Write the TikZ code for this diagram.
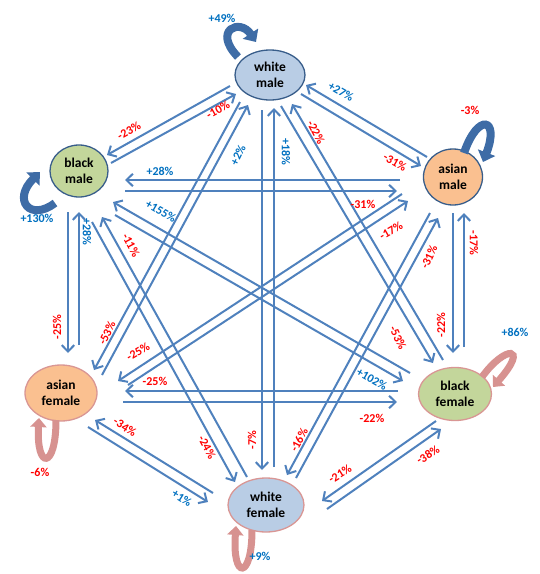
\documentclass[tikz,border=0pt]{standalone}
\usepackage{fontspec}
\setmainfont{Carlito}
\usetikzlibrary{shapes.geometric,arrows.meta,calc}
\definecolor{ablue}{HTML}{4F81BD}
\definecolor{posblue}{HTML}{0070C0}
\definecolor{negred}{HTML}{FF0000}
\definecolor{wfill}{HTML}{B9CDE5}
\definecolor{gfill}{HTML}{C3D69B}
\definecolor{ofill}{HTML}{FAC090}
\definecolor{mborder}{HTML}{385D8A}
\definecolor{fborder}{HTML}{D99694}
\definecolor{loopblue}{HTML}{3E6CA6}
\definecolor{looppink}{HTML}{D79290}
\begin{document}
\begin{tikzpicture}[x=1pt,y=-1pt,
  person/.style={ellipse, inner sep=0pt, align=center, line width=1.3pt,
    font=\bfseries\fontsize{13.5}{16}\selectfont},
  male/.style={person, draw=mborder},
  female/.style={person, draw=fborder},
  arr/.style={draw=ablue, line width=2pt, -{Straight Barb[length=6.5pt,width=12.5pt]}},
  lab/.style={inner sep=0pt, font=\bfseries\fontsize{12}{13}\selectfont},
  neglab/.style={lab, text=negred},
  poslab/.style={lab, text=posblue},
  mloop/.style={draw=loopblue, line width=8pt, -{Triangle[length=10pt,width=18pt]}},
  floop/.style={draw=looppink, line width=7pt, -{Triangle[length=9pt,width=16pt]}}
]
\useasboundingbox (0,0) rectangle (540,574);

% nodes
\node[male, fill=wfill, minimum width=70pt, minimum height=50pt] (wm) at (270,75) {white\\male};
\node[male, fill=gfill, minimum width=58pt, minimum height=52pt] (bm) at (79,171) {black\\male};
\node[male, fill=ofill, minimum width=59pt, minimum height=56pt] (am) at (453,177) {asian\\male};
\node[female, fill=ofill, minimum width=72pt, minimum height=56pt] (af) at (61,393) {asian\\female};
\node[female, fill=gfill, minimum width=73pt, minimum height=53pt] (bf) at (455,394) {black\\female};
\node[female, fill=wfill, minimum width=76pt, minimum height=54pt] (wf) at (266,505) {white\\female};

% self loops
\draw[mloop] ($(wm)+(-32,-18)$) .. controls ($(wm)+(-58,-45)$) and ($(wm)+(-30,-57)$) .. ($(wm)+(-14,-33)$);
\draw[mloop] ($(bm)+(-24,32)$) .. controls ($(bm)+(-49,51)$) and ($(bm)+(-67,29)$) .. ($(bm)+(-39,1)$);
\draw[mloop] ($(am)+(11,-24)$) .. controls ($(am)+(25,-65)$) and ($(am)+(47,-59)$) .. ($(am)+(30,-15)$);
\draw[floop] ($(af)+(-5,27)$) .. controls ($(af)+(-5,77)$) and ($(af)+(-25,77)$) .. ($(af)+(-22,25)$);
\draw[floop] ($(bf)+(27,-17)$) .. controls ($(bf)+(50,-49)$) and ($(bf)+(75,-49)$) .. ($(bf)+(38,-7)$);
\draw[floop] ($(wf)+(-14,25)$) .. controls ($(wf)+(-14,75)$) and ($(wf)+(-34,75)$) .. ($(wf)+(-30,21)$);

% connectors
% WM - BM
\draw[arr] ($(wm)+(-40,11)$) -- ($(bm)+(28,-16)$);
\draw[arr] ($(bm)+(32,-8)$) -- ($(wm)+(-34,19)$);
% WM - AM
\draw[arr] ($(wm)+(31,19)$) -- ($(am)+(-32,-11)$);
\draw[arr] ($(am)+(-26,-20)$) -- ($(wm)+(36,10)$);
% WM - WF
\draw[arr] ($(wm)+(-8,35)$) -- ($(wf)+(-4,-35)$);
\draw[arr] ($(wf)+(8,-38)$) -- ($(wm)+(4,33)$);
% WM - AF
\draw[arr] ($(wm)+(-30,27)$) -- ($(af)+(33,-23)$);
\draw[arr] ($(af)+(41,-18)$) -- ($(wm)+(-22,30)$);
% WM - BF
\draw[arr] ($(wm)+(11,31)$) -- ($(bf)+(-22,-31)$);
\draw[arr] ($(bf)+(-12,-34)$) -- ($(wm)+(22,29)$);
% BM - AF
\draw[arr] ($(bm)+(-11,41)$) -- ($(af)+(7,-40)$);
\draw[arr] ($(af)+(18,-48)$) -- ($(bm)+(0,41)$);
% BM - WF
\draw[arr] ($(bm)+(13,51)$) -- ($(wf)+(-31,-23)$);
\draw[arr] ($(wf)+(-19,-28)$) -- ($(bm)+(23,46)$);
% BM - BF
\draw[arr] ($(bm)+(36,44)$) -- ($(bf)+(-52,-13)$);
\draw[arr] ($(bf)+(-45,-21)$) -- ($(bm)+(34,31)$);
% AM - AF
\draw[arr] ($(am)+(-51,17)$) -- ($(af)+(57,-12)$);
\draw[arr] ($(af)+(67,-8)$) -- ($(am)+(-45,24)$);
% AM - WF
\draw[arr] ($(am)+(-23,36)$) -- ($(wf)+(21,-30)$);
\draw[arr] ($(wf)+(30,-27)$) -- ($(am)+(-15,41)$);
% AM - BF
\draw[arr] ($(am)+(0,36)$) -- ($(bf)+(-2,-41)$);
\draw[arr] ($(bf)+(9,-47)$) -- ($(am)+(11,36)$);
% AF - BF
\draw[arr] ($(bf)+(-57,-3)$) -- ($(af)+(64,-2)$);
\draw[arr] ($(af)+(62,9)$) -- ($(bf)+(-58,8)$);
% BM - AM
\draw[arr] ($(am)+(-53,3)$) -- ($(bm)+(46,9)$);
\draw[arr] ($(bm)+(46,20)$) -- ($(am)+(-56,14)$);
% AF - WF
\draw[arr] ($(af)+(27,34)$) -- ($(wf)+(-58,-3)$);
\draw[arr] ($(wf)+(-53,-12)$) -- ($(af)+(34,27)$);
% WF - BF
\draw[arr] ($(wf)+(61,4)$) -- ($(bf)+(-14,35)$);
\draw[arr] ($(bf)+(-19,27)$) -- ($(wf)+(56,-4)$);

% labels
\node[neglab, rotate=29] (l01) at (129,131) {-23\%};
\node[neglab, rotate=29] (l02) at (218,110) {-10\%};
\node[poslab, rotate=-30] (l03) at (341,92) {+27\%};
\node[neglab, rotate=-30] (l04) at (395,162) {-31\%};
\node[neglab, rotate=90] (l05) at (252,440) {-7\%};
\node[poslab, rotate=-90] (l06) at (286,152) {+18\%};
\node[neglab, rotate=64] (l07) at (107,333) {-53\%};
\node[poslab, rotate=64] (l08) at (238,155) {+2\%};
\node[neglab, rotate=-62] (l09) at (316,132) {-22\%};
\node[neglab, rotate=-65] (l10) at (398,338) {-53\%};
\node[poslab] (l11) at (160,171) {+28\%};
\node[neglab] (l12) at (363,204) {-31\%};
\node[poslab, rotate=-90] (l13) at (87,232) {+28\%};
\node[neglab, rotate=90] (l14) at (57,327) {-25\%};
\node[neglab, rotate=-62] (l15) at (131,245) {-11\%};
\node[neglab, rotate=-62] (l16) at (207,447) {-24\%};
\node[poslab, rotate=-30] (l17) at (161,211) {+155\%};
\node[poslab, rotate=-30] (l18) at (372,379) {+102\%};
\node[neglab, rotate=30] (l19) at (391,231) {-17\%};
\node[neglab, rotate=30] (l20) at (138,352) {-25\%};
\node[neglab, rotate=65] (l21) at (429,257) {-31\%};
\node[neglab, rotate=62] (l22) at (299,440) {-16\%};
\node[neglab, rotate=-90] (l23) at (474,243) {-17\%};
\node[neglab, rotate=90] (l24) at (441,325) {-22\%};
\node[neglab] (l25) at (155,381) {-25\%};
\node[neglab] (l26) at (372,418) {-22\%};
\node[neglab, rotate=-32] (l27) at (125,427) {-34\%};
\node[poslab, rotate=-32] (l28) at (182,498) {+1\%};
\node[neglab, rotate=32] (l29) at (340,474) {-21\%};
\node[neglab, rotate=32] (l30) at (428,455) {-38\%};
\node[poslab] (s1) at (222,18) {+49\%};
\node[poslab] (s2) at (37,218) {+130\%};
\node[neglab] (s3) at (470,110) {-3\%};
\node[neglab] (s4) at (40,472) {-6\%};
\node[poslab] (s5) at (515,332) {+86\%};
\node[poslab] (s6) at (260,556) {+9\%};
\end{tikzpicture}
\end{document}
